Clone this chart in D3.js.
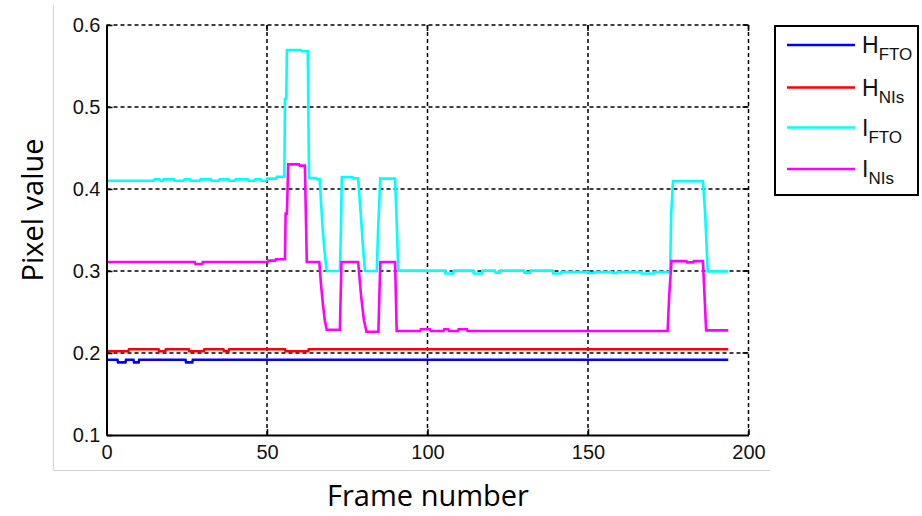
<!DOCTYPE html>
<html><head><meta charset="utf-8">
<script src="https://cdn.jsdelivr.net/npm/d3@7/dist/d3.min.js"></script>
<style>body{margin:0;background:#fff}svg{display:block}</style>
</head><body><svg id="c" width="922" height="516"></svg>
<script>
// ---- data ----
const xTicks = [0, 50, 100, 150, 200];
const yTicks = [0.1, 0.2, 0.3, 0.4, 0.5, 0.6];
const seriesNames = ["H", "H", "I", "I"];
const seriesSubs = ["FTO", "NIs", "FTO", "NIs"];
const seriesColors = ["#0000ff", "#ff0000", "#00ffff", "#ff00ff"];

const hFTO = [[0,0.1918],[3.4,0.1918],[3.6,0.1886],[5.9,0.1886],[6.1,0.1918],[8.4,0.1918],[8.6,0.1886],[10,0.1886],[10.2,0.1918],
  [24.6,0.1918],[24.8,0.1886],[26.7,0.1886],[26.9,0.1918],[193.7,0.1918]];

const hNIs = [[0,0.2021],[6.8,0.2021],[7,0.2045],[16.2,0.2045],[16.4,0.2021],[18.3,0.2021],[18.5,0.2045],[25.6,0.2045],[25.8,0.2021],
  [30.3,0.2021],[30.5,0.2045],[36.4,0.2045],[36.6,0.2021],[38,0.2021],[38.2,0.2045],[55.6,0.2045],[55.8,0.2021],[62.8,0.2021],
  [63,0.2045],[193.7,0.2045]];

const iFTO = [[0,0.410],[14.6,0.410],[15,0.4117],[16.5,0.4117],[16.8,0.410],[17.5,0.410],[17.8,0.4117],[21,0.4117],[21.3,0.410],
  [24,0.410],[24.3,0.4117],[26,0.4117],[26.3,0.410],[29,0.410],[29.3,0.4117],[32.5,0.4117],[32.8,0.410],[35,0.410],[35.3,0.4117],
  [38,0.4117],[38.3,0.410],[40,0.410],[40.3,0.4117],[44,0.4117],[44.3,0.410],[46,0.410],[46.3,0.4117],[48,0.4117],[48.3,0.410],
  [49.8,0.410],[50.1,0.4127],[52.8,0.4127],[53.1,0.415],[55.4,0.415],[55.6,0.51],[56.0,0.51],[56.2,0.5695],[60.5,0.5695],
  [60.8,0.568],[62.7,0.568],[63.1,0.4135],[65.3,0.4135],[65.5,0.412],[66.4,0.412],[66.8,0.386],[67.3,0.354],[67.9,0.325],
  [68.6,0.300],[72.7,0.300],[73.0,0.345],[73.3,0.4145],[76.6,0.4145],[76.9,0.413],[78.4,0.413],[79.2,0.37],[79.9,0.33],
  [80.5,0.300],[84.2,0.300],[84.6,0.35],[85.3,0.4127],[89.9,0.4127],[90.3,0.37],[90.9,0.3004],[105.4,0.3004],[105.6,0.297],
  [108,0.297],[108.2,0.3004],[114.2,0.3004],[114.4,0.297],[117,0.297],[117.2,0.3004],[121,0.3004],[121.2,0.298],[122.5,0.298],
  [122.7,0.3004],[130,0.3004],[130.2,0.298],[132,0.298],[132.2,0.3004],[139,0.3004],[139.2,0.297],[141.4,0.297],[141.6,0.2988],
  [150,0.2988],[150.2,0.2975],[152,0.2975],[152.2,0.2988],[157.5,0.2988],[157.7,0.2975],[159,0.2975],[159.2,0.2988],
  [166.5,0.2988],[166.7,0.297],[170.5,0.297],[170.7,0.2988],[175.6,0.2988],[175.9,0.37],[176.5,0.4096],[185.8,0.4096],
  [186.5,0.37],[187.3,0.2995],[193.7,0.2995]];

const iNIs = [[0,0.311],[27.5,0.311],[27.7,0.3085],[29.8,0.3085],[30,0.311],[50.3,0.311],[50.5,0.3126],[52.6,0.3126],[52.8,0.3143],
  [55.6,0.3143],[55.8,0.37],[56.2,0.37],[56.6,0.430],[60,0.430],[60.2,0.4285],[61.8,0.4285],[62.4,0.311],[66.3,0.311],
  [66.8,0.285],[67.4,0.26],[68.0,0.24],[68.6,0.2283],[72.7,0.2283],[73.2,0.311],[78.4,0.311],[79.3,0.27],[80.2,0.24],
  [81,0.226],[84.7,0.226],[85.3,0.311],[89.9,0.311],[90.4,0.2268],[97.7,0.2268],[97.9,0.2289],[100.8,0.2289],[101,0.2268],
  [105,0.2268],[105.2,0.2289],[106.5,0.2289],[106.7,0.2268],[109.5,0.2268],[109.7,0.2289],[112.3,0.2289],[112.5,0.2268],
  [174.8,0.2268],[175.3,0.27],[176,0.312],[180.7,0.312],[180.9,0.3105],[182.8,0.3105],[183,0.312],[185.8,0.312],
  [186.3,0.27],[186.8,0.2276],[193.7,0.2276]];

const seriesData = [hFTO, hNIs, iFTO, iNIs];

// ---- layout ----
const svg = d3.select("#c");
const x = d3.scaleLinear().domain([0, 200]).range([106.5, 748.5]);
const y = d3.scaleLinear().domain([0.1, 0.6]).range([435, 25]);
const X0 = x.range()[0], X1 = x.range()[1], Y0 = y.range()[0], Y1 = y.range()[1];

// figure frame (light grey)
svg.append("line").attr("x1", 53.5).attr("x2", 53.5).attr("y1", 5).attr("y2", 470.5)
  .attr("stroke", "#d4d4d4").attr("stroke-width", 1);
svg.append("line").attr("x1", 53.5).attr("x2", 770).attr("y1", 470.5).attr("y2", 470.5)
  .attr("stroke", "#d4d4d4").attr("stroke-width", 1);

// grid
const grid = svg.append("g").attr("stroke", "#000").attr("stroke-width", 1.5).attr("stroke-dasharray", "4,3");
grid.selectAll(".gy").data(yTicks.filter(d => d > 0.1)).join("line")
  .attr("x1", X0).attr("x2", X1).attr("y1", d => y(d)).attr("y2", d => y(d));
grid.selectAll(".gx").data(xTicks.filter(d => d > 0)).join("line")
  .attr("x1", d => x(d)).attr("x2", d => x(d)).attr("y1", Y0).attr("y2", Y1);

// series
const line = d3.line().x(d => x(d[0])).y(d => y(d[1]));
svg.append("g").selectAll("path").data(seriesData).join("path")
  .attr("d", line).attr("fill", "none")
  .attr("stroke", (d, i) => seriesColors[i]).attr("stroke-width", 2.6);

// axes
const fontTick = "'Liberation Sans', Arial, sans-serif";
const ax = svg.append("g").attr("transform", `translate(0,${Y0})`)
  .call(d3.axisBottom(x).tickValues(xTicks).tickFormat(d3.format("d")).tickSize(-6).tickSizeOuter(0).tickPadding(10));
const ay = svg.append("g").attr("transform", `translate(${X0},0)`)
  .call(d3.axisLeft(y).tickValues(yTicks).tickFormat(d3.format(".1f")).tickSize(-6).tickSizeOuter(0).tickPadding(6));
[ax, ay].forEach(g => {
  g.select(".domain").attr("stroke", "#000").attr("stroke-width", 2);
  g.selectAll(".tick line").attr("stroke", "#000").attr("stroke-width", 1.5);
  g.selectAll(".tick text").attr("font-family", fontTick).attr("font-size", 20).attr("fill", "#111");
});
// right and top ticks
svg.append("g").selectAll("line").data(yTicks.slice(1)).join("line")
  .attr("x1", X1 - 6).attr("x2", X1).attr("y1", d => y(d)).attr("y2", d => y(d))
  .attr("stroke", "#000").attr("stroke-width", 1.5);
svg.append("g").selectAll("line").data(xTicks.slice(1)).join("line")
  .attr("x1", d => x(d)).attr("x2", d => x(d)).attr("y1", Y1).attr("y2", Y1 + 6)
  .attr("stroke", "#000").attr("stroke-width", 1.5);

// axis titles
const fontTitle = "'Open Sans', 'Noto Sans', sans-serif";
svg.append("text").attr("x", 428).attr("y", 506).attr("text-anchor", "middle")
  .attr("font-family", fontTitle).attr("font-size", 29).attr("fill", "#000").text("Frame number");
svg.append("text").attr("transform", "translate(43,210) rotate(-90)").attr("text-anchor", "middle")
  .attr("font-family", fontTitle).attr("font-size", 29).attr("fill", "#000").text("Pixel value");

// legend
const lg = svg.append("g");
lg.append("rect").attr("x", 775).attr("y", 26).attr("width", 143).attr("height", 169)
  .attr("fill", "#fff").attr("stroke", "#000").attr("stroke-width", 2);
const legY = [45, 87.5, 127.5, 169];
seriesNames.forEach((nm, i) => {
  lg.append("line").attr("x1", 787).attr("x2", 855).attr("y1", legY[i]).attr("y2", legY[i])
    .attr("stroke", seriesColors[i]).attr("stroke-width", 2.7);
  const t = lg.append("text").attr("x", 862).attr("y", legY[i] + 8)
    .attr("font-family", fontTick).attr("font-size", 23).attr("fill", "#111");
  t.append("tspan").text(nm);
  t.append("tspan").attr("dy", 7).attr("font-size", 17).text(seriesSubs[i]);
});
</script></body></html>
